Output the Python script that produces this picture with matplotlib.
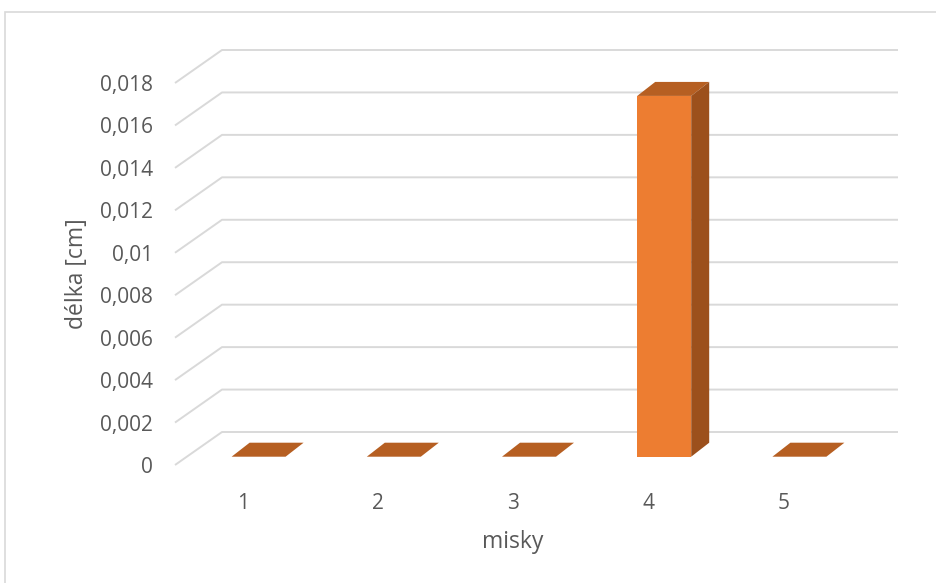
import matplotlib
matplotlib.use("Agg")
import matplotlib.pyplot as plt
from matplotlib.patches import Rectangle, Polygon
import numpy as np

# --- data ---
categories = ["1", "2", "3", "4", "5"]
values = [0.0, 0.0, 0.0, 0.017, 0.0]
y_ticks = [0.0, 0.002, 0.004, 0.006, 0.008, 0.010, 0.012, 0.014, 0.016, 0.018]
y_tick_labels = ["0", "0,002", "0,004", "0,006", "0,008", "0,01",
                 "0,012", "0,014", "0,016", "0,018"]
x_title = "misky"
y_title = "délka [cm]"

# --- style ---
FONT = "Open Sans"
TEXT_COLOR = "#595959"
GRID_COLOR = "#D9D9D9"
FRONT_COLOR = "#ED7D31"
TOP_COLOR = "#B65F22"
SIDE_COLOR = "#9C501C"

W, H = 936, 583
fig = plt.figure(figsize=(W / 100, H / 100), dpi=100)

# front plane of the 3-D plot area, in pixels
left_px, right_px, bottom_px, top_px = 175, 851, 465, 83
ax = fig.add_axes([left_px / W, 1 - bottom_px / H,
                   (right_px - left_px) / W, (bottom_px - top_px) / H])
ax.set_xlim(0.5, len(categories) + 0.5)
ax.set_ylim(0, y_ticks[-1])

px_per_x = (right_px - left_px) / len(categories)
px_per_y = (bottom_px - top_px) / y_ticks[-1]

# oblique depth of the back wall and of the columns (data units)
wall_dx, wall_dy = 47 / px_per_x, 33 / px_per_y
bar_off_x, bar_off_y = 16 / px_per_x, 8.3 / px_per_y
bar_w = 54 / px_per_x
bar_dx, bar_dy = 18 / px_per_x, 14 / px_per_y

# back wall gridlines with their diagonal floor-edge segments
x0, x1 = 0.5, len(categories) + 0.5
for v in y_ticks:
    ax.plot([x0, x0 + wall_dx, x1 + wall_dx], [v, v + wall_dy, v + wall_dy],
            color=GRID_COLOR, lw=1.4, clip_on=False, zorder=1,
            solid_capstyle="butt")

# columns: front faces, then top and side faces
xs = np.arange(1, len(categories) + 1)
ax.bar(xs + bar_off_x, values, width=bar_w, bottom=bar_off_y,
       color=FRONT_COLOR, zorder=3, clip_on=False, linewidth=0)
for x, v in zip(xs, values):
    xl = x + bar_off_x - bar_w / 2
    xr = x + bar_off_x + bar_w / 2
    yb = bar_off_y
    yt = bar_off_y + v
    top = Polygon([(xl, yt), (xr, yt), (xr + bar_dx, yt + bar_dy),
                   (xl + bar_dx, yt + bar_dy)], closed=True,
                  facecolor=TOP_COLOR, edgecolor="none", zorder=4, clip_on=False)
    ax.add_patch(top)
    if v > 0:
        side = Polygon([(xr, yb), (xr + bar_dx, yb + bar_dy),
                        (xr + bar_dx, yt + bar_dy), (xr, yt)], closed=True,
                       facecolor=SIDE_COLOR, edgecolor="none", zorder=4,
                       clip_on=False)
        ax.add_patch(side)

# axes text
for s in ax.spines.values():
    s.set_visible(False)
ax.set_yticks(y_ticks, y_tick_labels)
ax.set_xticks(xs, categories)
ax.tick_params(axis="both", length=0, labelsize=15, labelcolor=TEXT_COLOR)
ax.tick_params(axis="y", pad=15.8)
ax.tick_params(axis="x", pad=20)
for lab in ax.get_xticklabels() + ax.get_yticklabels():
    lab.set_fontfamily(FONT)
ax.set_xlabel(x_title, fontsize=16.5, color=TEXT_COLOR, fontfamily=FONT,
              labelpad=12)
ax.set_ylabel(y_title, fontsize=16.5, color=TEXT_COLOR, fontfamily=FONT,
              labelpad=8)
ax.patch.set_visible(False)

# chart area border
fig.patches.append(Rectangle((4.5 / W, -0.1), 1.2, 1.1 - 12.5 / H,
                             transform=fig.transFigure, fill=False,
                             edgecolor=GRID_COLOR, lw=1.2))

fig.savefig("out.png", dpi=100)
